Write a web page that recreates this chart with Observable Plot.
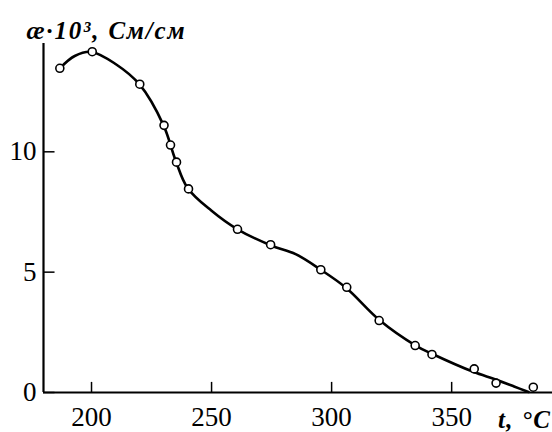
<!DOCTYPE html>
<html><head><meta charset="utf-8">
<script src="https://cdn.jsdelivr.net/npm/d3@7"></script>
<script src="https://cdn.jsdelivr.net/npm/@observablehq/plot@0.6"></script>
<style>body{margin:0;background:#fff}</style>
</head><body><div id="chart"></div>
<script>
const tempC = [186.8, 200.3, 220.1, 230.2, 232.9, 235.4, 240.4, 260.8, 274.6, 295.5, 306.3, 319.8, 334.8, 341.8, 359.4, 368.5, 384.0];
const kappa = [13.47, 14.16, 12.81, 11.10, 10.28, 9.57, 8.46, 6.78, 6.14, 5.10, 4.37, 2.99, 1.95, 1.58, 0.98, 0.39, 0.22];
const curveT = [186.8, 193, 200, 210, 220, 230, 235, 240, 250, 260.8, 275, 285, 295.5, 306, 320, 335, 342, 359, 368, 376, 382];
const curveK = [13.47, 13.98, 14.15, 13.65, 12.8, 11.1, 9.65, 8.5, 7.55, 6.78, 6.1, 5.75, 5.1, 4.35, 3.0, 1.95, 1.6, 0.86, 0.55, 0.25, 0.02];
const xTicks = [200, 250, 300, 350];
const yTicks = [0, 5, 10];
const yLabel = "æ·10³, См/см";
const xLabel = "t, °C";

const points = tempC.map((t, i) => ({t, k: kappa[i]}));
const curve = curveT.map((t, i) => ({t, k: curveK[i]}));

const chart = Plot.plot({
  width: 552, height: 432,
  marginLeft: 43, marginRight: 0, marginTop: 43, marginBottom: 40,
  style: {fontFamily: "'Liberation Serif', serif", fontSize: "27px", background: "#fff", color: "#000"},
  x: {domain: [180, 392]},
  y: {domain: [0, 14.5]},
  marks: [
    Plot.axisX({ticks: xTicks, tickSize: 0, tickPadding: 14, label: null, tickFormat: d => String(d)}),
    Plot.axisY({ticks: yTicks, tickSize: 0, tickPadding: 7, label: null}),
    Plot.ruleX(xTicks, {y1: 0, y2: 0.42, strokeWidth: 1.5}),
    Plot.ruleY(yTicks, {x1: 180, x2: 184.8, strokeWidth: 1.5}),
    Plot.ruleX([180], {strokeWidth: 2.2}),
    Plot.ruleY([0], {strokeWidth: 2.2}),
    Plot.line(curve, {x: "t", y: "k", curve: "catmull-rom", strokeWidth: 2.6}),
    Plot.dot(points, {x: "t", y: "k", r: 4, fill: "white", stroke: "black", strokeWidth: 1.6}),
    Plot.text([yLabel], {frameAnchor: "top-left", text: d => d, textAnchor: "start", lineAnchor: "bottom", dx: -17, dy: -5, fontWeight: "bold", fontStyle: "italic", fontSize: 25}),
    Plot.text([xLabel], {frameAnchor: "bottom-right", text: d => d, textAnchor: "end", lineAnchor: "bottom", dx: -1, dy: 35, fontWeight: "bold", fontStyle: "italic", fontSize: 25})
  ]
});
d3.select(chart).selectAll("text").filter(function() { return this.textContent === yLabel; }).style("letter-spacing", "1.8px");
d3.select(chart).selectAll("text").filter(function() { return this.textContent === xLabel; }).style("letter-spacing", "1.5px");
document.getElementById("chart").appendChild(chart);
</script>
</body></html>
